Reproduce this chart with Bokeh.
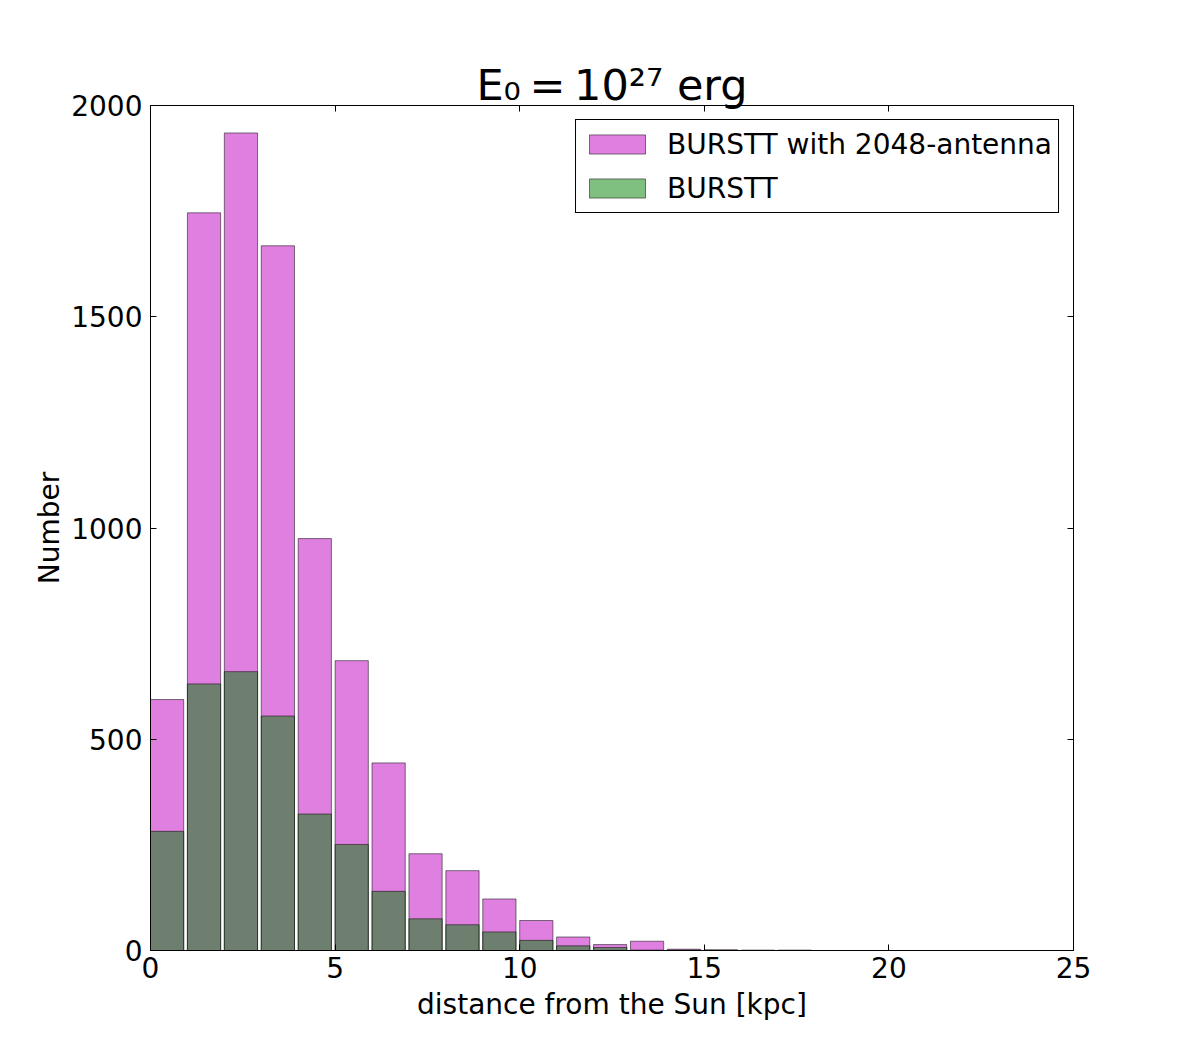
from bokeh.plotting import figure
from bokeh.models import Range1d, LinearAxis, FixedTicker, Legend, Title
from bokeh.embed import file_html
from bokeh.resources import INLINE

# bin left edges (kpc), bin width 1, bars drawn with 0.9 relative width
bin_left = list(range(24))
bar_width = 0.9
counts_2048 = [594, 1746, 1935, 1668, 975, 686, 444, 229, 189, 122, 71, 32,
               14, 22, 3, 2, 1, 1, 0, 0, 0, 0, 0, 0]
counts_burstt = [282, 631, 660, 555, 323, 251, 140, 75, 61, 44, 24, 11,
                 7, 1, 1, 0, 0, 0, 0, 0, 0, 0, 0, 0]
x_ticks = [0, 5, 10, 15, 20, 25]
y_ticks = [0, 500, 1000, 1500, 2000]
label_2048 = "BURSTT with 2048-antenna"
label_burstt = "BURSTT"
title_text = "E\u2080\u2009=\u200910\u00b2\u2077 erg"
x_label = "distance from the Sun [kpc]"
y_label = "Number"

FONT = "DejaVu Sans"
W, H = 1176, 1040

p = figure(width=W, height=H, output_backend="svg", toolbar_location=None,
           x_range=Range1d(0, 25), y_range=Range1d(0, 2000),
           x_axis_label=x_label, y_axis_label=y_label)
p.min_border_left = 150
p.min_border_right = W - 1073
p.min_border_top = 105
p.min_border_bottom = H - 950
p.xgrid.visible = False
p.ygrid.visible = False
p.outline_line_color = "black"
p.outline_line_width = 1
p.background_fill_color = "white"
p.border_fill_color = "white"

right = [b + bar_width for b in bin_left]
r1 = p.quad(left=bin_left, right=right, bottom=0, top=counts_2048,
            fill_color="#BF00BF", fill_alpha=0.5, line_color="black", line_alpha=0.5,
            line_width=1)
r2 = p.quad(left=bin_left, right=right, bottom=0, top=counts_burstt,
            fill_color="#008000", fill_alpha=0.5, line_color="black", line_alpha=0.5,
            line_width=1)

legend = Legend(items=[(label_2048, [r1]), (label_burstt, [r2])],
                location="top_right")
legend.label_text_font = FONT
legend.label_text_font_size = "28px"
legend.label_text_color = "black"
legend.glyph_width = 70
legend.glyph_height = 24
legend.label_height = 36
legend.label_standoff = 15
legend.spacing = 8
legend.padding = 6
legend.margin = 14
legend.border_line_color = "black"
legend.border_line_width = 1
legend.border_line_alpha = 1
legend.background_fill_alpha = 1
p.add_layout(legend)

p.title = Title(text=title_text, align="center", text_font=FONT,
                text_font_size="43px", text_font_style="normal",
                text_color="black", standoff=-8)

for ax in [p.xaxis[0], p.yaxis[0]]:
    ax.axis_label_text_font = FONT
    ax.axis_label_text_font_size = "28px"
    ax.axis_label_text_font_style = "normal"
    ax.axis_label_text_color = "black"
    ax.major_label_text_font = FONT
    ax.major_label_text_font_size = "28px"
    ax.major_label_text_color = "black"
    ax.major_tick_in = 6
    ax.major_tick_out = 0
    ax.minor_tick_line_color = None
    ax.axis_line_color = "black"
    ax.major_tick_line_color = "black"

p.xaxis[0].ticker = FixedTicker(ticks=x_ticks)
p.yaxis[0].ticker = FixedTicker(ticks=y_ticks)
p.xaxis[0].major_label_standoff = 6
p.xaxis[0].axis_label_standoff = 7
p.yaxis[0].major_label_standoff = 8
p.yaxis[0].axis_label_standoff = 2

top_ax = LinearAxis(ticker=FixedTicker(ticks=x_ticks),
                    major_label_overrides={t: "" for t in x_ticks})
right_ax = LinearAxis(ticker=FixedTicker(ticks=y_ticks),
                      major_label_overrides={t: "" for t in y_ticks})
for ax in [top_ax, right_ax]:
    ax.major_tick_in = 6
    ax.major_tick_out = 0
    ax.minor_tick_line_color = None
    ax.axis_line_color = "black"
    ax.major_tick_line_color = "black"
    ax.major_label_standoff = 0
    ax.major_label_text_font_size = "1px"
p.add_layout(top_ax, "above")
p.add_layout(right_ax, "right")

open("out.html", "w").write(file_html(p, INLINE))
